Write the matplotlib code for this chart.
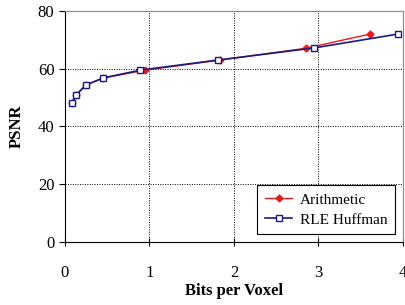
import matplotlib
matplotlib.use("Agg")
import matplotlib.pyplot as plt

# bits per voxel / PSNR
arith_bpv = [0.086, 0.137, 0.247, 0.455, 0.953, 1.84, 2.855, 3.61]
arith_psnr = [48.2, 51.0, 54.3, 56.8, 59.5, 63.0, 67.1, 72.0]
huff_bpv = [0.086, 0.137, 0.247, 0.455, 0.894, 1.81, 2.95, 3.94]
huff_psnr = [48.2, 51.0, 54.3, 56.8, 59.5, 63.0, 67.2, 72.0]

plt.rcParams['font.family'] = ['Liberation Serif', 'DejaVu Serif']

fig = plt.figure(figsize=(4.05, 3.05), dpi=100)
ax = fig.add_axes([0.16, 0.207, 0.835, 0.757])

ax.plot(arith_bpv, arith_psnr, color='#e41a1c', lw=1.0, marker='D', ms=3.5,
        mfc='#e41a1c', mec='#e41a1c', label='Arithmetic', zorder=3)
ax.plot(huff_bpv, huff_psnr, color='#1a1a80', lw=1.2, marker='s', ms=5,
        mfc='white', mec='#1a1a80', mew=1.0, label='RLE Huffman', zorder=4)

ax.set_xlim(0, 4)
ax.set_ylim(0, 80)
ax.set_xticks([0, 1, 2, 3, 4])
ax.set_yticks([0, 20, 40, 60, 80])
ax.grid(True, color='black', linestyle=(0, (1, 1.5)), linewidth=0.7)
ax.tick_params(axis='x', direction='inout', length=6, labelsize=12, pad=14)
ax.tick_params(axis='y', direction='out', length=4, labelsize=12)

for s in ['top', 'right']:
    ax.spines[s].set_color('#888888')
ax.spines['left'].set_color('black')
ax.spines['bottom'].set_color('black')

ax.set_xlabel('Bits per Voxel', fontsize=12, fontweight='bold', labelpad=1)
ax.set_ylabel('PSNR', fontsize=12, fontweight='bold', labelpad=9)

leg = ax.legend(loc='lower right', fontsize=11, fancybox=False,
                edgecolor='black', framealpha=1, borderaxespad=0.5,
                handlelength=1.8, handletextpad=0.5, labelspacing=0.4,
                borderpad=0.5)
leg.get_frame().set_linewidth(0.8)

fig.savefig('out.png', dpi=100)
